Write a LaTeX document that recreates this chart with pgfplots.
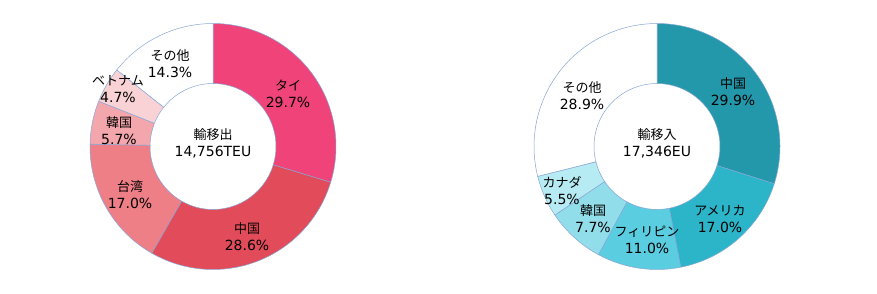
\documentclass[border=0pt]{standalone}
\usepackage{fontspec}
\setmainfont{DejaVu Sans}
\newfontfamily\cjk{Noto Sans CJK JP}
\usepackage{pgfplots}
\pgfplotsset{compat=1.18}
\definecolor{edge}{HTML}{86A6D6}
\definecolor{lA}{HTML}{F0437A}
\definecolor{lB}{HTML}{E24B59}
\definecolor{lC}{HTML}{EE7F87}
\definecolor{lD}{HTML}{F3A7AD}
\definecolor{lE}{HTML}{F9D2D6}
\definecolor{rA}{HTML}{2398AA}
\definecolor{rB}{HTML}{2CB5C9}
\definecolor{rC}{HTML}{5BCDE0}
\definecolor{rD}{HTML}{92DDEA}
\definecolor{rE}{HTML}{B7EBF3}
% \slice{cx}{cy}{start %}{value %}{colour}
\newcommand{\slice}[5]{%
  \filldraw[fill=#5,draw=edge,line width=0.5pt]
    (axis cs:{#1+123*cos(90-3.6*(#3))},{#2+123*sin(90-3.6*(#3))})
    arc[start angle={90-3.6*(#3)}, end angle={90-3.6*(#3+#4)}, radius=123pt]
    -- (axis cs:{#1+63*cos(90-3.6*(#3+#4))},{#2+63*sin(90-3.6*(#3+#4))})
    arc[start angle={90-3.6*(#3+#4)}, end angle={90-3.6*(#3)}, radius=63pt]
    -- cycle;}
\newcommand{\lab}[4]{\node[align=center,font=\fontsize{13}{16}\selectfont,inner sep=0pt] at (axis cs:#1,#2) {{\cjk #3}\\[1pt]{\fontsize{14}{16}\selectfont #4}};}
\begin{document}
\begin{tikzpicture}
\begin{axis}[x=1pt,y=1pt,xmin=0,xmax=877,ymin=0,ymax=293,hide axis,clip=false,scale only axis]
\addplot[draw=none] coordinates {(0,0) (877,293)};
% left donut: 輸移出
\slice{213}{146.5}{0}{29.7}{lA}
\slice{213}{146.5}{29.7}{28.6}{lB}
\slice{213}{146.5}{58.3}{17.0}{lC}
\slice{213}{146.5}{75.3}{5.7}{lD}
\slice{213}{146.5}{81.0}{4.7}{lE}
\slice{213}{146.5}{85.7}{14.3}{white}
% right donut: 輸移入
\slice{657}{146.5}{0}{29.9}{rA}
\slice{657}{146.5}{29.9}{17.0}{rB}
\slice{657}{146.5}{46.9}{11.0}{rC}
\slice{657}{146.5}{57.9}{7.7}{rD}
\slice{657}{146.5}{65.6}{5.5}{rE}
\slice{657}{146.5}{71.1}{28.9}{white}
% labels (left)
\lab{288}{199}{タイ}{29.7\%}
\lab{247}{56}{中国}{28.6\%}
\lab{130}{98}{台湾}{17.0\%}
\lab{119}{162}{韓国}{5.7\%}
\lab{118}{204}{ベトナム}{4.7\%}
\lab{170}{229}{その他}{14.3\%}
\lab{213}{150}{輸移出}{14,756TEU}
% labels (right)
\lab{733}{201}{中国}{29.9\%}
\lab{720}{74}{アメリカ}{17.0\%}
\lab{647}{53}{フィリピン}{11.0\%}
\lab{593}{74}{韓国}{7.7\%}
\lab{562}{102}{カナダ}{5.5\%}
\lab{582}{197}{その他}{28.9\%}
\lab{657}{150}{輸移入}{17,346EU}
\end{axis}
\end{tikzpicture}
\end{document}
